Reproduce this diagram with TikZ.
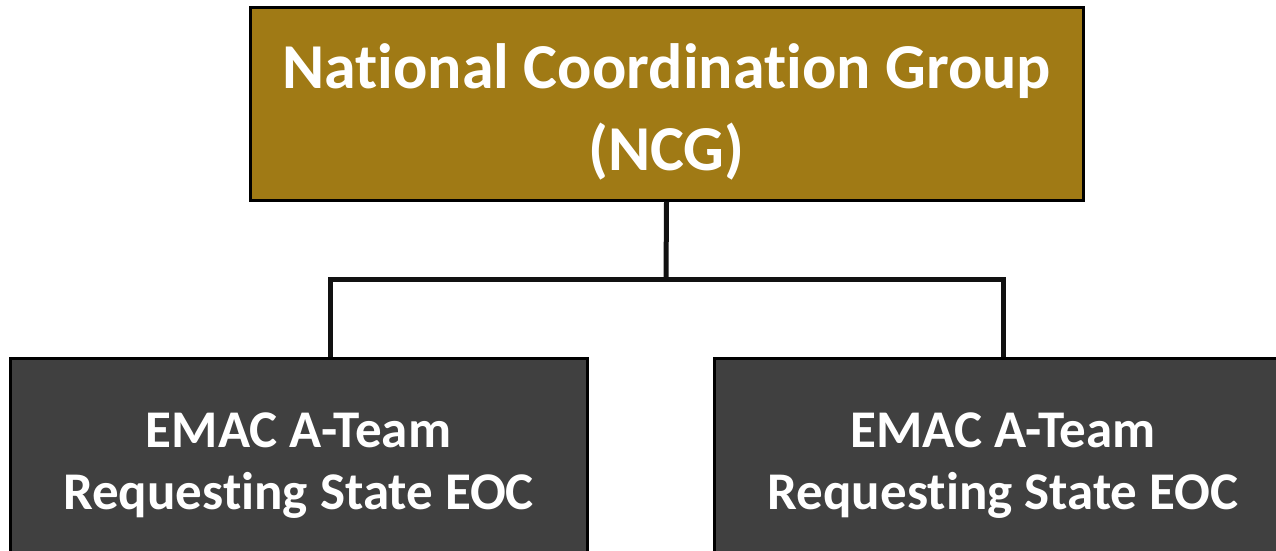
\documentclass[tikz,border=0pt]{standalone}
\usepackage{fontspec}
\setmainfont[Ligatures=NoCommon]{Carlito}
\definecolor{gold}{HTML}{A07A15}
\definecolor{darkbox}{HTML}{404040}
\definecolor{linecol}{HTML}{111111}
\begin{document}
\begin{tikzpicture}[x=1pt,y=-1pt,
  topbox/.style={draw=black,line width=3pt,fill=gold,inner sep=0pt},
  toptext/.style={text=white,font=\bfseries\fontsize{64}{82}\selectfont,align=center,inner sep=0pt},
  botbox/.style={draw=black,line width=3pt,fill=darkbox,text=white,font=\bfseries\fontsize{53}{62}\selectfont,align=center,inner sep=0pt},
  conn/.style={draw=linecol,line width=5pt}]
\useasboundingbox (0,0) rectangle (1276,550);
\node[topbox,minimum width=833pt,minimum height=193pt] (ncg) at (666.5,103.5) {};
\node[toptext] (ncgtext) at (666.5,112) {National Coordination Group\\(NCG)};
\node[botbox,minimum width=577pt,minimum height=216pt] (left) at (298.5,466) {EMAC A-Team\\Requesting State EOC};
\node[botbox,minimum width=578pt,minimum height=216pt] (right) at (1003,466) {EMAC A-Team\\Requesting State EOC};
\coordinate (hub) at (666,279);
\coordinate (lj) at (330,279);
\coordinate (rj) at (1003,279);
\draw[conn] (ncg.south) -- (hub);
\draw[conn,line cap=rect] (lj) -- (rj);
\draw[conn] (lj) -- (lj |- left.north);
\draw[conn] (rj) -- (right.north);
\end{tikzpicture}
\end{document}
